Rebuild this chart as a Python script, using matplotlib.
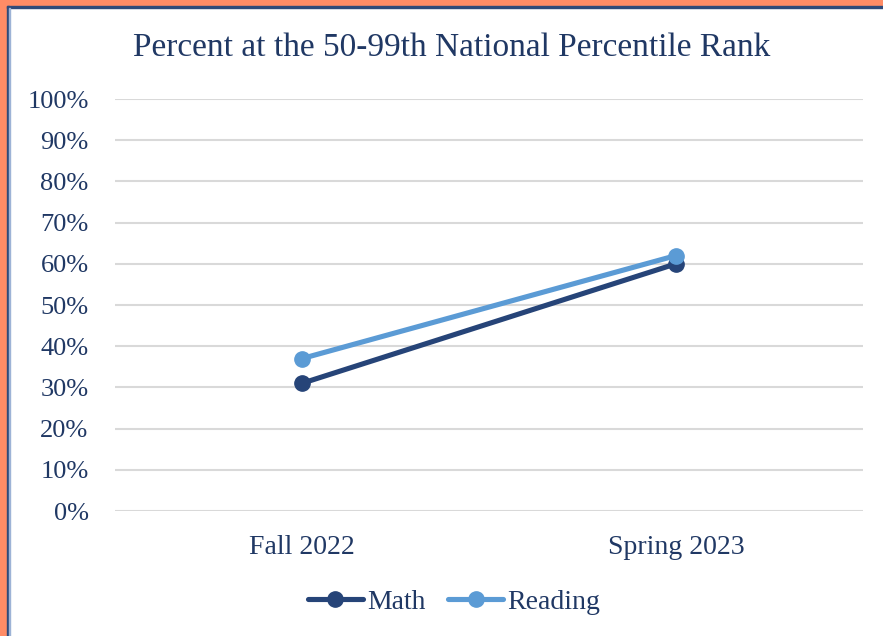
import matplotlib
matplotlib.use("Agg")
import matplotlib.pyplot as plt
from matplotlib.patches import Rectangle
from matplotlib.ticker import FuncFormatter

categories = ["Fall 2022", "Spring 2023"]
math_vals = [31, 60]
reading_vals = [37, 62]
yticks = list(range(0, 101, 10))

text_color = "#203864"
math_color = "#264478"
reading_color = "#5B9BD5"
orange = "#FF8C66"

plt.rcParams['font.family'] = ['Liberation Serif', 'DejaVu Serif']

W, H = 883, 636
fig = plt.figure(figsize=(W / 100, H / 100), dpi=100)
ax = fig.add_axes([115 / W, 1 - 511 / H, (863 - 115) / W, (511 - 99) / H])

x = list(range(len(categories)))
ax.plot(x, math_vals, color=math_color, lw=3.7, marker='o', ms=11, label="Math",
        solid_capstyle='round', zorder=3)
ax.plot(x, reading_vals, color=reading_color, lw=3.7, marker='o', ms=11, label="Reading",
        solid_capstyle='round', zorder=4)

ax.set_xlim(-0.5, 1.5)
ax.set_ylim(0, 100)
ax.set_yticks(yticks)
ax.yaxis.set_major_formatter(FuncFormatter(lambda v, p: f"{int(v)}%"))
ax.set_xticks(x)
ax.set_xticklabels(categories)
ax.grid(axis='y', color='#D9D9D9', lw=1.5)
ax.set_axisbelow(True)
for s in ax.spines.values():
    s.set_visible(False)
ax.tick_params(axis='both', length=0, colors=text_color)
ax.tick_params(axis='y', pad=19, labelsize=19)
ax.tick_params(axis='x', pad=17, labelsize=20)

fig.text(452 / W, 1 - 48 / H, "Percent at the 50-99th National Percentile Rank",
         ha='center', va='center', fontsize=24, color=text_color)

leg = fig.legend(loc='center', bbox_to_anchor=(454 / W, 1 - 602 / H), ncol=2, frameon=False,
                 fontsize=20, handlelength=2.0, columnspacing=0.8, handletextpad=0.15,
                 labelcolor=text_color)

# borders
fig.patches.append(Rectangle((0, 1 - 6 / H), 1, 6 / H, transform=fig.transFigure,
                             color=orange, zorder=0))
fig.patches.append(Rectangle((0, 0), 7 / W, 1, transform=fig.transFigure,
                             color=orange, zorder=0))
fig.patches.append(Rectangle((7 / W, 1 - 8 / H), 1, 2 / H, transform=fig.transFigure,
                             color="#2F4A7A", zorder=0))
fig.patches.append(Rectangle((7 / W, 0), 2 / W, 1 - 6 / H, transform=fig.transFigure,
                             color="#2F4A7A", zorder=0))
fig.patches.append(Rectangle((9 / W, 0), 1 / W, 1 - 8 / H, transform=fig.transFigure,
                             color="#9DB3D6", zorder=0))

fig.savefig("out.png", dpi=100)
